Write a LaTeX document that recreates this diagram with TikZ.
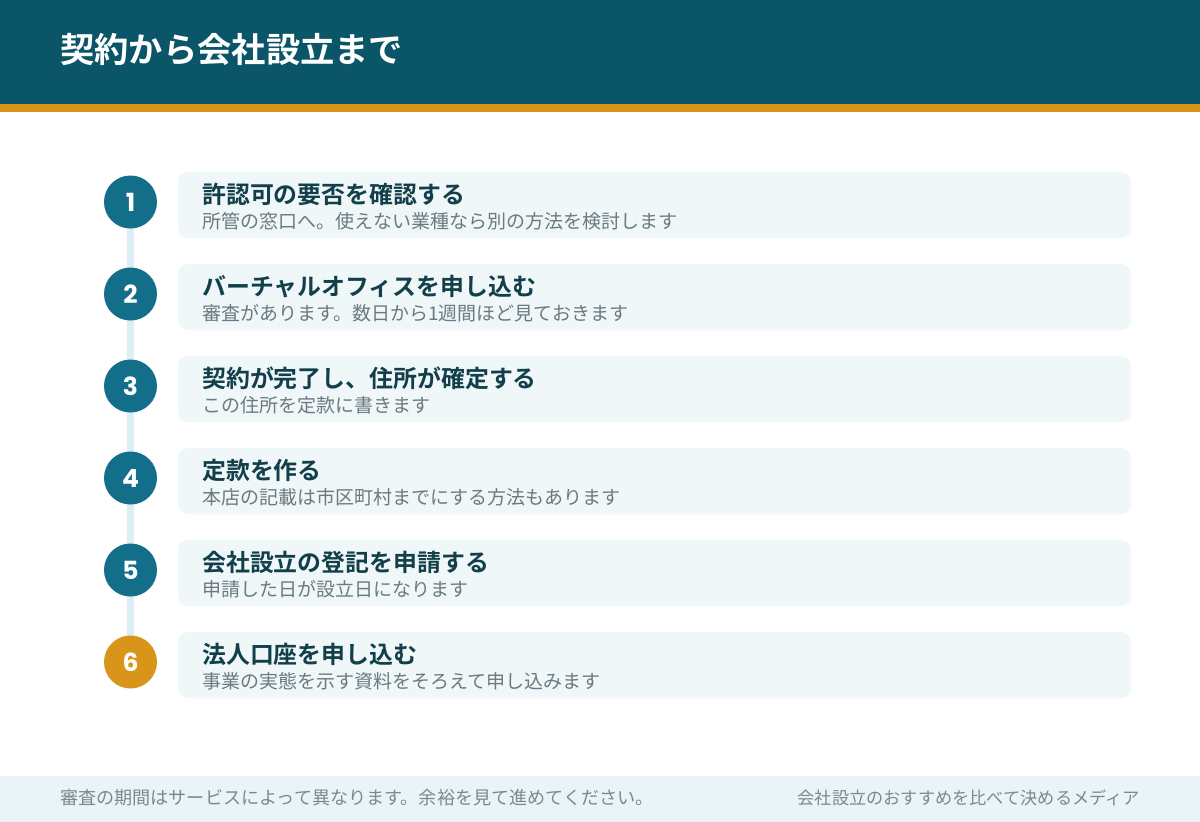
\documentclass[tikz,border=0pt]{standalone}
\usepackage{fontspec}
\newfontfamily\cjk{Noto Sans CJK JP}[BoldFont={Noto Sans CJK JP Bold}]
\newfontfamily\numfont{Poppins}
\definecolor{headbg}{HTML}{0B5568}
\definecolor{accent}{HTML}{D9941A}
\definecolor{footbg}{HTML}{EAF4F7}
\definecolor{cardbg}{HTML}{F0F7F9}
\definecolor{circ}{HTML}{136E8A}
\definecolor{rail}{HTML}{DDEEF4}
\definecolor{ttl}{HTML}{123F4A}
\definecolor{sub}{HTML}{6B7A80}
\definecolor{foot}{HTML}{7A898E}
\tikzset{
  card/.style={fill=cardbg, rounded corners=10pt, draw=none},
  numcirc/.style={circle, fill=circ, minimum size=53pt, inner sep=0pt, text=white, font=\numfont\bfseries\fontsize{25}{25}\selectfont},
  steptitle/.style={anchor=base west, inner sep=0pt, text=ttl, font=\cjk\bfseries\fontsize{23.9}{24}\selectfont},
  stepsub/.style={anchor=base west, inner sep=0pt, text=sub, font=\cjk\fontsize{19}{19}\selectfont},
  foottext/.style={inner sep=0pt, text=foot, font=\cjk\fontsize{17.2}{17}\selectfont},
}
\begin{document}
\begin{tikzpicture}[x=1pt,y=-1pt]
\useasboundingbox (0,0) rectangle (1200,822);
\fill[white] (0,0) rectangle (1200,822);
\fill[headbg] (0,0) rectangle (1200,104);
\fill[accent] (0,104) rectangle (1200,112);
\node[anchor=base west, inner sep=0pt, text=white, font=\cjk\bfseries\fontsize{34.3}{35}\selectfont] (title) at (60,62) {契約から会社設立まで};
\fill[footbg] (0,776) rectangle (1200,822);
\node[foottext, anchor=base west, font=\cjk\fontsize{18.1}{18}\selectfont] (fl) at (60,804) {審査の期間はサービスによって異なります。余裕を見て進めてください。};
\node[foottext, anchor=base east] (fr) at (1140,804) {会社設立のおすすめを比べて決めるメディア};
% rail
\fill[rail] (127,202) rectangle (134,662);
% cards
\foreach \i/\t/\s in {
 1/許認可の要否を確認する/所管の窓口へ。使えない業種なら別の方法を検討します,
 2/バーチャルオフィスを申し込む/審査があります。数日から1週間ほど見ておきます,
 3/契約が完了し、住所が確定する/この住所を定款に書きます,
 4/定款を作る/本店の記載は市区町村までにする方法もあります,
 5/会社設立の登記を申請する/申請した日が設立日になります,
 6/法人口座を申し込む/事業の実態を示す資料をそろえて申し込みます}{
  \pgfmathsetmacro{\yy}{202+92*(\i-1)}
  \fill[cardbg, rounded corners=10pt] (178,\yy-30) rectangle (1131,\yy+36);
  \node[steptitle] (t\i) at (202,\yy+1) {\t};
  \node[stepsub] (s\i) at (202,\yy+26) {\s};
}
\foreach \i in {1,...,5}{
  \node[numcirc] (c\i) at (130.5,{202+92*(\i-1)}) {\i};
}
\node[numcirc, fill=accent] (c6) at (130.5,662) {6};
\end{tikzpicture}
\end{document}
